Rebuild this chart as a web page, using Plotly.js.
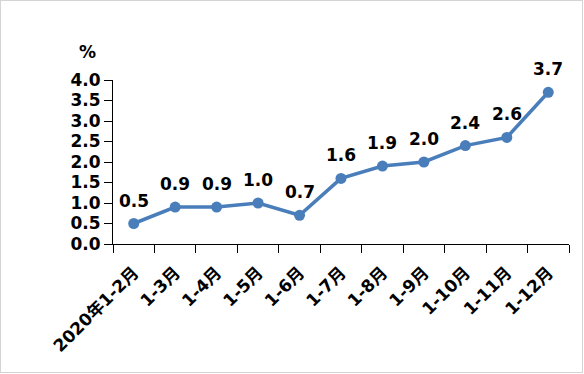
<!DOCTYPE html>
<html>
<head>
<meta charset="utf-8">
<script src="https://cdn.plot.ly/plotly-3.0.1.min.js"></script>
<style>
html,body{margin:0;padding:0;background:#fff;}
#wrap{position:absolute;left:0;top:0;width:583px;height:373px;box-sizing:border-box;border:1px solid #d4d4d4;}
#chart{position:absolute;left:0;top:0;width:581px;height:371px;}
</style>
</head>
<body>
<div id="wrap"><div id="chart"></div></div>
<script>
const categories = ["2020年1-2月","1-3月","1-4月","1-5月","1-6月","1-7月","1-8月","1-9月","1-10月","1-11月","1-12月"];
const values = [0.5, 0.9, 0.9, 1.0, 0.7, 1.6, 1.9, 2.0, 2.4, 2.6, 3.7];
const yTicks = [0, 0.5, 1.0, 1.5, 2.0, 2.5, 3.0, 3.5, 4.0];
const unitLabel = "%";

const fontFam = "DejaVu Sans, Noto Sans CJK SC, sans-serif";
const fnt = {family: fontFam, size: 17, color: '#000', weight: 'bold'};

const trace = {
  x: categories,
  y: values,
  type: 'scatter',
  mode: 'lines+markers',
  line: {color: '#4a7ebb', width: 3.5},
  marker: {color: '#4a7ebb', size: 11},
  cliponaxis: false,
  hoverinfo: 'none'
};

const labelAnns = categories.map((c, i) => ({
  x: c, y: values[i], xref: 'x', yref: 'y',
  text: values[i].toFixed(1),
  showarrow: false,
  yshift: 23,
  xanchor: 'center', yanchor: 'middle',
  font: fnt
}));

const layout = {
  width: 581, height: 371,
  margin: {l: 112, r: 13, t: 79, b: 128},
  paper_bgcolor: '#fff',
  plot_bgcolor: '#fff',
  showlegend: false,
  font: fnt,
  xaxis: {
    type: 'category',
    range: [-0.5, categories.length - 0.5],
    tickson: 'boundaries',
    ticks: 'outside',
    ticklen: 8,
    tickcolor: '#000',
    showline: true,
    linecolor: '#000',
    linewidth: 1,
    showgrid: false,
    zeroline: false,
    tickangle: -45,
    ticklabelstandoff: 11,
    tickfont: fnt
  },
  yaxis: {
    range: [0, 4],
    tickvals: yTicks,
    ticktext: yTicks.map(v => v.toFixed(1)),
    ticks: 'outside',
    ticklen: 8,
    tickcolor: '#000',
    showline: true,
    linecolor: '#000',
    linewidth: 1,
    showgrid: false,
    zeroline: false,
    tickfont: fnt
  },
  annotations: labelAnns.concat([{
    text: unitLabel,
    xref: 'paper', yref: 'paper',
    x: -0.055, y: 1.17,
    xanchor: 'center', yanchor: 'middle',
    showarrow: false,
    font: fnt
  }])
};

Plotly.newPlot('chart', [trace], layout, {displayModeBar: false, staticPlot: true});
</script>
</body>
</html>
